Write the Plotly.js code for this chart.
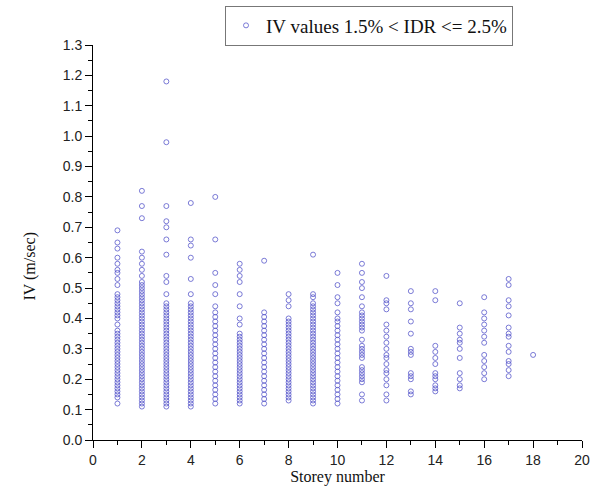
<!DOCTYPE html>
<html>
<head>
<meta charset="utf-8">
<script src="https://cdn.plot.ly/plotly-3.0.1.min.js"></script>
<style>html,body{margin:0;padding:0;background:#fff;}#chart{width:602px;height:492px;}</style>
</head>
<body>
<div id="chart"></div>
<script>
// Storey numbers and IV values (m/sec)
const storeys = [1,2,3,4,5,6,7,8,9,10,11,12,13,14,15,16,17,18];
const s1 = [0.12,0.14,0.15,0.16,0.17,0.18,0.19,0.20,0.21,0.22,0.23,0.24,0.25,0.26,0.27,0.28,0.29,0.30,0.31,0.32,0.33,0.34,0.35,0.36,0.38,0.40,0.41,0.42,0.43,0.44,0.45,0.46,0.47,0.48,0.51,0.53,0.55,0.56,0.58,0.60,0.63,0.65,0.69];
const s2 = [0.11,0.12,0.13,0.14,0.15,0.16,0.17,0.18,0.19,0.20,0.21,0.22,0.23,0.24,0.25,0.26,0.27,0.28,0.29,0.30,0.31,0.32,0.33,0.34,0.35,0.36,0.37,0.38,0.39,0.40,0.41,0.42,0.43,0.44,0.45,0.46,0.47,0.48,0.49,0.50,0.51,0.52,0.54,0.56,0.58,0.60,0.62,0.73,0.77,0.82];
const s3 = [0.11,0.12,0.13,0.14,0.15,0.16,0.17,0.18,0.19,0.20,0.21,0.22,0.23,0.24,0.25,0.26,0.27,0.28,0.29,0.30,0.31,0.32,0.33,0.34,0.35,0.36,0.37,0.38,0.39,0.40,0.41,0.42,0.43,0.44,0.45,0.48,0.52,0.54,0.61,0.66,0.70,0.72,0.77,0.98,1.18];
const s4 = [0.11,0.12,0.13,0.14,0.15,0.16,0.17,0.18,0.19,0.20,0.21,0.22,0.23,0.24,0.25,0.26,0.27,0.28,0.29,0.30,0.31,0.32,0.33,0.34,0.35,0.36,0.37,0.38,0.39,0.40,0.41,0.42,0.43,0.44,0.45,0.48,0.53,0.60,0.64,0.66,0.78];
const s5 = [0.12,0.135,0.15,0.165,0.18,0.195,0.21,0.225,0.24,0.255,0.27,0.285,0.30,0.315,0.33,0.345,0.36,0.375,0.39,0.405,0.42,0.44,0.48,0.51,0.55,0.66,0.80];
const s6 = [0.12,0.13,0.14,0.15,0.16,0.17,0.18,0.19,0.20,0.21,0.22,0.23,0.24,0.25,0.26,0.27,0.28,0.29,0.30,0.31,0.32,0.33,0.34,0.35,0.38,0.40,0.44,0.48,0.52,0.54,0.56,0.58];
const s7 = [0.12,0.135,0.15,0.165,0.18,0.195,0.21,0.225,0.24,0.255,0.27,0.285,0.30,0.315,0.33,0.345,0.36,0.375,0.39,0.405,0.42,0.59];
const s8 = [0.13,0.14,0.15,0.16,0.17,0.18,0.19,0.20,0.21,0.22,0.23,0.24,0.25,0.26,0.27,0.28,0.29,0.30,0.31,0.32,0.33,0.34,0.35,0.36,0.37,0.38,0.39,0.40,0.44,0.46,0.48];
const s9 = [0.12,0.13,0.14,0.15,0.16,0.17,0.18,0.19,0.20,0.21,0.22,0.23,0.24,0.25,0.26,0.27,0.28,0.29,0.30,0.31,0.32,0.33,0.34,0.35,0.36,0.37,0.38,0.39,0.40,0.41,0.42,0.43,0.44,0.45,0.47,0.48,0.61];
const s10 = [0.12,0.135,0.15,0.165,0.18,0.195,0.21,0.225,0.24,0.255,0.27,0.285,0.30,0.315,0.33,0.345,0.36,0.375,0.39,0.40,0.42,0.45,0.47,0.51,0.55];
const s11 = [0.13,0.15,0.19,0.20,0.21,0.22,0.23,0.24,0.27,0.28,0.29,0.30,0.31,0.33,0.36,0.37,0.38,0.39,0.40,0.41,0.42,0.44,0.47,0.50,0.52,0.55,0.58];
const s12 = [0.13,0.15,0.18,0.20,0.22,0.23,0.25,0.27,0.28,0.30,0.32,0.34,0.36,0.38,0.43,0.45,0.46,0.54];
const s13 = [0.15,0.16,0.20,0.21,0.22,0.28,0.29,0.30,0.35,0.39,0.43,0.45,0.49];
const s14 = [0.16,0.17,0.18,0.20,0.21,0.22,0.25,0.27,0.29,0.31,0.46,0.49];
const s15 = [0.17,0.18,0.20,0.22,0.27,0.30,0.32,0.33,0.35,0.37,0.45];
const s16 = [0.20,0.22,0.24,0.26,0.28,0.32,0.34,0.36,0.38,0.40,0.42,0.47];
const s17 = [0.21,0.23,0.25,0.26,0.29,0.31,0.34,0.35,0.37,0.41,0.44,0.46,0.51,0.53];
const s18 = [0.28];
const series = [s1,s2,s3,s4,s5,s6,s7,s8,s9,s10,s11,s12,s13,s14,s15,s16,s17,s18];
const legendName = 'IV values 1.5% &lt; IDR &lt;= 2.5%';
const yTitle = 'IV (m/sec)';
const xTitle = 'Storey number';

const xs = [], ys = [];
series.forEach((vals, i) => vals.forEach(v => { xs.push(storeys[i]); ys.push(v); }));

const trace = {
  x: xs, y: ys, type: 'scatter', mode: 'markers', name: legendName,
  marker: {symbol: 'circle-open', size: 5, color: 'rgba(80,80,200,0.75)', line: {width: 1}}
};

const tickFont = {family: 'Liberation Sans, Arial, sans-serif', size: 14, color: '#222'};
const titleFont = {family: 'Liberation Serif, Times New Roman, serif', size: 16, color: '#111'};

const layout = {
  width: 602, height: 492,
  margin: {l: 93, r: 20, t: 45, b: 52, autoexpand: false},
  paper_bgcolor: '#fff', plot_bgcolor: '#fff',
  showlegend: true,
  legend: {x: 0.27, y: 1.1, xanchor: 'left', yanchor: 'top', bordercolor: '#777', borderwidth: 1,
           font: {family: 'Liberation Serif, Times New Roman, serif', size: 19, color: '#111'},
           bgcolor: '#fff', itemwidth: 30, tracegroupgap: 0},
  xaxis: {range: [0, 20], dtick: 2, tick0: 0, showgrid: false, zeroline: false, automargin: false,
          showline: true, linecolor: '#000', linewidth: 1, ticks: 'outside', ticklen: 7, tickcolor: '#000',
          minor: {dtick: 1, ticks: 'outside', ticklen: 4, tickcolor: '#000', showgrid: false},
          tickfont: tickFont, title: {text: xTitle, font: titleFont, standoff: 2}},
  yaxis: {range: [0, 1.3], dtick: 0.1, tick0: 0, tickformat: '.1f', showgrid: false, zeroline: false, automargin: false,
          showline: true, linecolor: '#000', linewidth: 1, ticks: 'outside', ticklen: 7, tickcolor: '#000',
          minor: {dtick: 0.05, ticks: 'outside', ticklen: 4, tickcolor: '#000', showgrid: false},
          tickfont: tickFont},
  annotations: [{text: yTitle, textangle: -90, xref: 'paper', yref: 'paper',
                 x: -0.128, y: 0.44, xanchor: 'center', yanchor: 'middle', showarrow: false, font: titleFont}]
};

Plotly.newPlot('chart', [trace], layout, {displayModeBar: false, staticPlot: true});
</script>
</body>
</html>
